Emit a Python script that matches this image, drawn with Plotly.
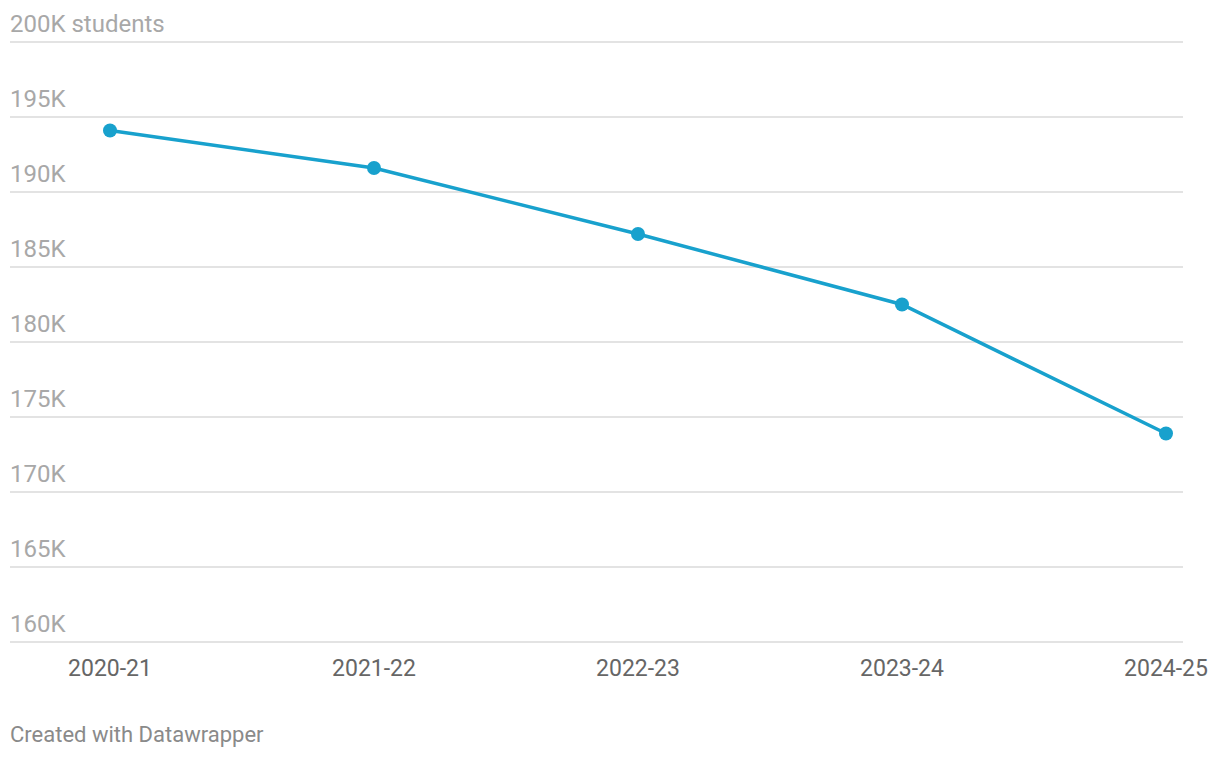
import plotly.graph_objects as go

years = ["2020-21", "2021-22", "2022-23", "2023-24", "2024-25"]
students_k = [194.1, 191.6, 187.2, 182.5, 173.9]
y_ticks = [160, 165, 170, 175, 180, 185, 190, 195, 200]
y_tick_labels = ["160K", "165K", "170K", "175K", "180K", "185K", "190K", "195K", "200K students"]

xpos = list(range(len(years)))
LINE = "#18a1cd"

fig = go.Figure()
fig.add_trace(go.Scatter(
    x=xpos, y=students_k, mode="lines+markers",
    line=dict(color=LINE, width=3.5),
    marker=dict(color=LINE, size=14),
    hoverinfo="skip", showlegend=False,
))

annotations = []
for v, t in zip(y_ticks, y_tick_labels):
    annotations.append(dict(
        x=0, xref="paper", y=v, yref="y", text=t, showarrow=False,
        xanchor="left", yanchor="bottom", yshift=2, xshift=-2,
        font=dict(family="Roboto", size=24, color="#a8a8a8"),
    ))
annotations.append(dict(
    x=0, xref="paper", y=0, yref="paper", text="Created with Datawrapper",
    showarrow=False, xanchor="left", yanchor="middle", yshift=-89, xshift=-2,
    font=dict(family="Roboto", size=22, color="#8a8a8a"),
))

fig.update_layout(
    width=1220, height=758,
    margin=dict(l=10, r=37, t=39, b=113),
    paper_bgcolor="white", plot_bgcolor="white",
    xaxis=dict(
        range=[-100 / 264, 4 + 17 / 264],
        tickvals=xpos, ticktext=years,
        showgrid=False, zeroline=False, showline=False,
        ticks="", ticklabelstandoff=7,
        tickfont=dict(family="Roboto", size=23, color="#666666"),
        fixedrange=True,
    ),
    yaxis=dict(
        range=[159.8, 200.2], tickvals=y_ticks,
        showticklabels=False, showgrid=True, gridcolor="#e3e3e3", gridwidth=2,
        zeroline=False, showline=False, fixedrange=True,
    ),
    annotations=annotations,
)

fig.write_html("out.html")
